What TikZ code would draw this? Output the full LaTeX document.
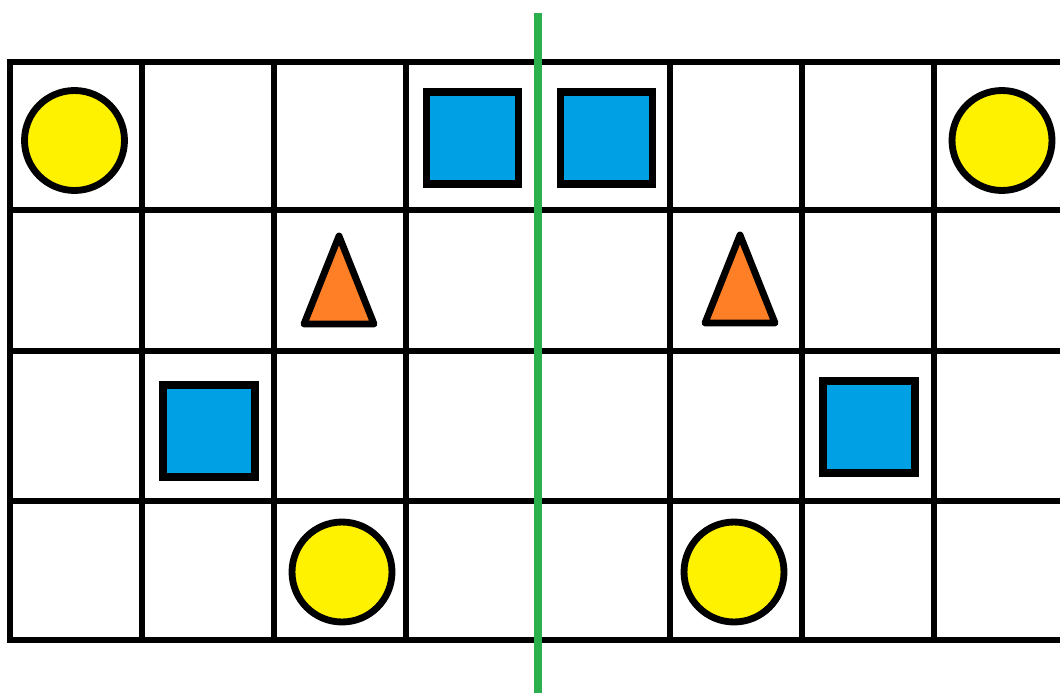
\documentclass[tikz,border=0pt]{standalone}
\usetikzlibrary{positioning}
\definecolor{ink}{HTML}{000000}
\definecolor{yl}{HTML}{FFF200}
\definecolor{bl}{HTML}{00A0E4}
\definecolor{or}{HTML}{FF7F27}
\definecolor{gn}{HTML}{2CB04E}
\tikzset{
  grid/.style={draw=ink,line width=2.9pt,line cap=rect},
  coin/.style={circle,draw=ink,fill=yl,line width=3.9pt,minimum size=2cm,inner sep=0pt},
  block/.style={rectangle,draw=ink,fill=bl,line width=4.1pt,minimum size=1.84cm,inner sep=0pt},
  cone/.style={draw=ink,fill=or,line width=3.9pt,line join=round},
  mirror/.style={draw=gn,line width=4.1pt}
}
\begin{document}
\begin{tikzpicture}[x=0.02cm,y=-0.02cm]
\useasboundingbox (0,0) rectangle (1060,693);
% ---------------- grid ----------------
\foreach \y in {62,210,351,501,640}{\draw[grid] (10,\y) -- (1062,\y);}
\foreach \x in {10,142,274,406,538,670,802,934}{\draw[grid] (\x,62) -- (\x,640);}
% ---------------- left half ----------------
\node[coin] (c1) at (74.5,140.5) {};
\node[block] (s1) at (472.5,138) {};
\draw[cone] (339,236) -- (374,324) -- (304,324) -- cycle;
\node[block] (s3) at (209,431) {};
\node[coin] (c3) at (342,572) {};
% ---------------- right half ----------------
\node[block] (s2) at (606.5,138) {};
\node[coin] (c2) at (1002,140.5) {};
\draw[cone] (740,235) -- (775,323) -- (705,323) -- cycle;
\node[block] (s4) at (869,427) {};
\node[coin] (c4) at (734,572) {};
% ---------------- mirror line ----------------
\coordinate (mtop) at (538,13);
\coordinate (mbot) at (538,693);
\draw[mirror] (mtop) -- (mbot);
\end{tikzpicture}
\end{document}
